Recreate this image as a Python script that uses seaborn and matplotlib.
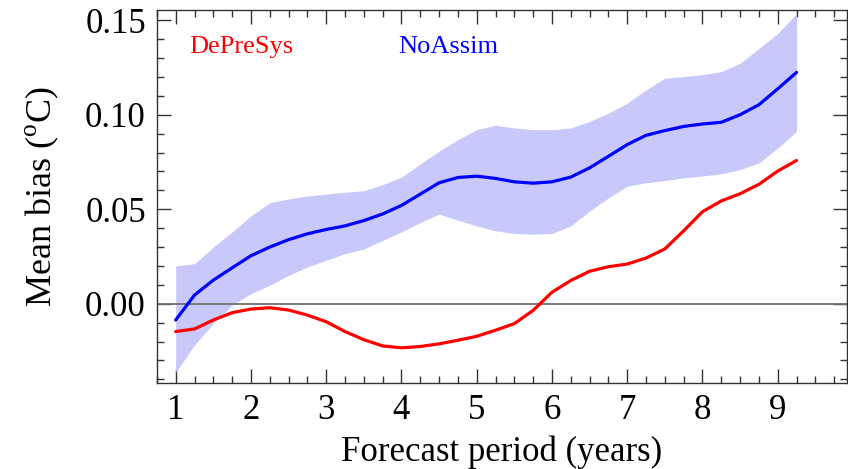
import numpy as np
import pandas as pd
import matplotlib
matplotlib.use("Agg")
import matplotlib.pyplot as plt
import seaborn as sns
from matplotlib.ticker import MultipleLocator

# Forecast period (years), every quarter year
period = [1.0, 1.25, 1.5, 1.75, 2.0, 2.25, 2.5, 2.75, 3.0, 3.25, 3.5, 3.75,
          4.0, 4.25, 4.5, 4.75, 5.0, 5.25, 5.5, 5.75, 6.0, 6.25, 6.5, 6.75,
          7.0, 7.25, 7.5, 7.75, 8.0, 8.25, 8.5, 8.75, 9.0, 9.25]

# Mean bias, DePreSys
depresys = [-0.0147, -0.0133, -0.0086, -0.0047, -0.0028, -0.0021, -0.0033, -0.0060,
            -0.0095, -0.0147, -0.0190, -0.0223, -0.0233, -0.0226, -0.0212, -0.0193,
            -0.0172, -0.0140, -0.0105, -0.0035, 0.0061, 0.0123, 0.0172, 0.0196,
            0.0210, 0.0242, 0.0290, 0.0386, 0.0487, 0.0544, 0.0582, 0.0632,
            0.0702, 0.0758]

# Mean bias, NoAssim
noassim = [-0.0086, 0.0046, 0.0125, 0.0190, 0.0254, 0.0300, 0.0339, 0.0370,
           0.0393, 0.0412, 0.0440, 0.0475, 0.0520, 0.0580, 0.0640, 0.0668,
           0.0675, 0.0663, 0.0645, 0.0638, 0.0645, 0.0670, 0.0719, 0.0780,
           0.0842, 0.0891, 0.0916, 0.0938, 0.0951, 0.0960, 0.1000, 0.1053,
           0.1137, 0.1224]

# NoAssim spread
noassim_hi = [0.0200, 0.0212, 0.0300, 0.0380, 0.0465, 0.0534, 0.0555, 0.0570,
              0.0580, 0.0590, 0.0598, 0.0630, 0.0670, 0.0740, 0.0807, 0.0868,
              0.0921, 0.0944, 0.0930, 0.0921, 0.0921, 0.0930, 0.0965, 0.1008,
              0.1061, 0.1131, 0.1193, 0.1202, 0.1212, 0.1228, 0.1272, 0.1350,
              0.1430, 0.1535]
noassim_lo = [-0.0362, -0.0218, -0.0104, -0.0007, 0.0054, 0.0098, 0.0150, 0.0195,
              0.0230, 0.0265, 0.0290, 0.0335, 0.0380, 0.0430, 0.0474, 0.0442,
              0.0412, 0.0386, 0.0372, 0.0368, 0.0372, 0.0412, 0.0490, 0.0560,
              0.0622, 0.0640, 0.0652, 0.0666, 0.0676, 0.0687, 0.0710, 0.0745,
              0.0824, 0.0912]

df = pd.DataFrame({
    "period": period * 2,
    "bias": depresys + noassim,
    "run": ["DePreSys"] * len(period) + ["NoAssim"] * len(period),
})

sns.set_style("ticks")
plt.rcParams["font.family"] = ["Liberation Serif", "DejaVu Serif"]
plt.rcParams["mathtext.fontset"] = "custom"
plt.rcParams["mathtext.rm"] = "Liberation Serif"
plt.rcParams["text.color"] = "black"
plt.rcParams["axes.labelcolor"] = "black"
plt.rcParams["xtick.color"] = "black"
plt.rcParams["ytick.color"] = "black"

fig = plt.figure(figsize=(8.48, 4.69), dpi=100)
ax = fig.add_axes([0.185, 0.1834, 0.8138, 0.7953])

ax.fill_between(period, noassim_lo, noassim_hi, color="#c8c8fb", lw=0, zorder=1)
ax.axhline(0, color="#707070", lw=1.3, zorder=2)
sns.lineplot(data=df, x="period", y="bias", hue="run",
             palette={"DePreSys": "#ff0000", "NoAssim": "#0000ff"},
             lw=2.3, legend=False, ax=ax, zorder=3)

ax.set_xlim(0.75, 9.92)
ax.set_ylim(-0.0419, 0.1554)
ax.set_xticks(range(1, 10))
ax.xaxis.set_minor_locator(MultipleLocator(0.25))
ax.set_yticks([0.0, 0.05, 0.10, 0.15])
ax.set_yticklabels(["0.00", "0.05", "0.10", "0.15"])
ax.yaxis.set_minor_locator(MultipleLocator(0.01))
ax.tick_params(which="both", direction="in", top=True, right=True,
               labelsize=25, color="#333333", labelcolor="black", width=1.0)
ax.tick_params(which="major", length=10, pad=8)
ax.tick_params(which="minor", length=5)
for sp in ax.spines.values():
    sp.set_color("#333333")
    sp.set_linewidth(1.0)

ax.set_xlabel("Forecast period (years)", fontsize=25, labelpad=6)
ax.set_ylabel(r"Mean bias ($^{\rm o}$C)", fontsize=26, labelpad=17)

ax.text(0.047, 0.93, "DePreSys", color="#ff0000", fontsize=19,
        transform=ax.transAxes, va="top")
ax.text(0.349, 0.93, "NoAssim", color="#0000ff", fontsize=19,
        transform=ax.transAxes, va="top")

fig.savefig("out.png", dpi=100)
